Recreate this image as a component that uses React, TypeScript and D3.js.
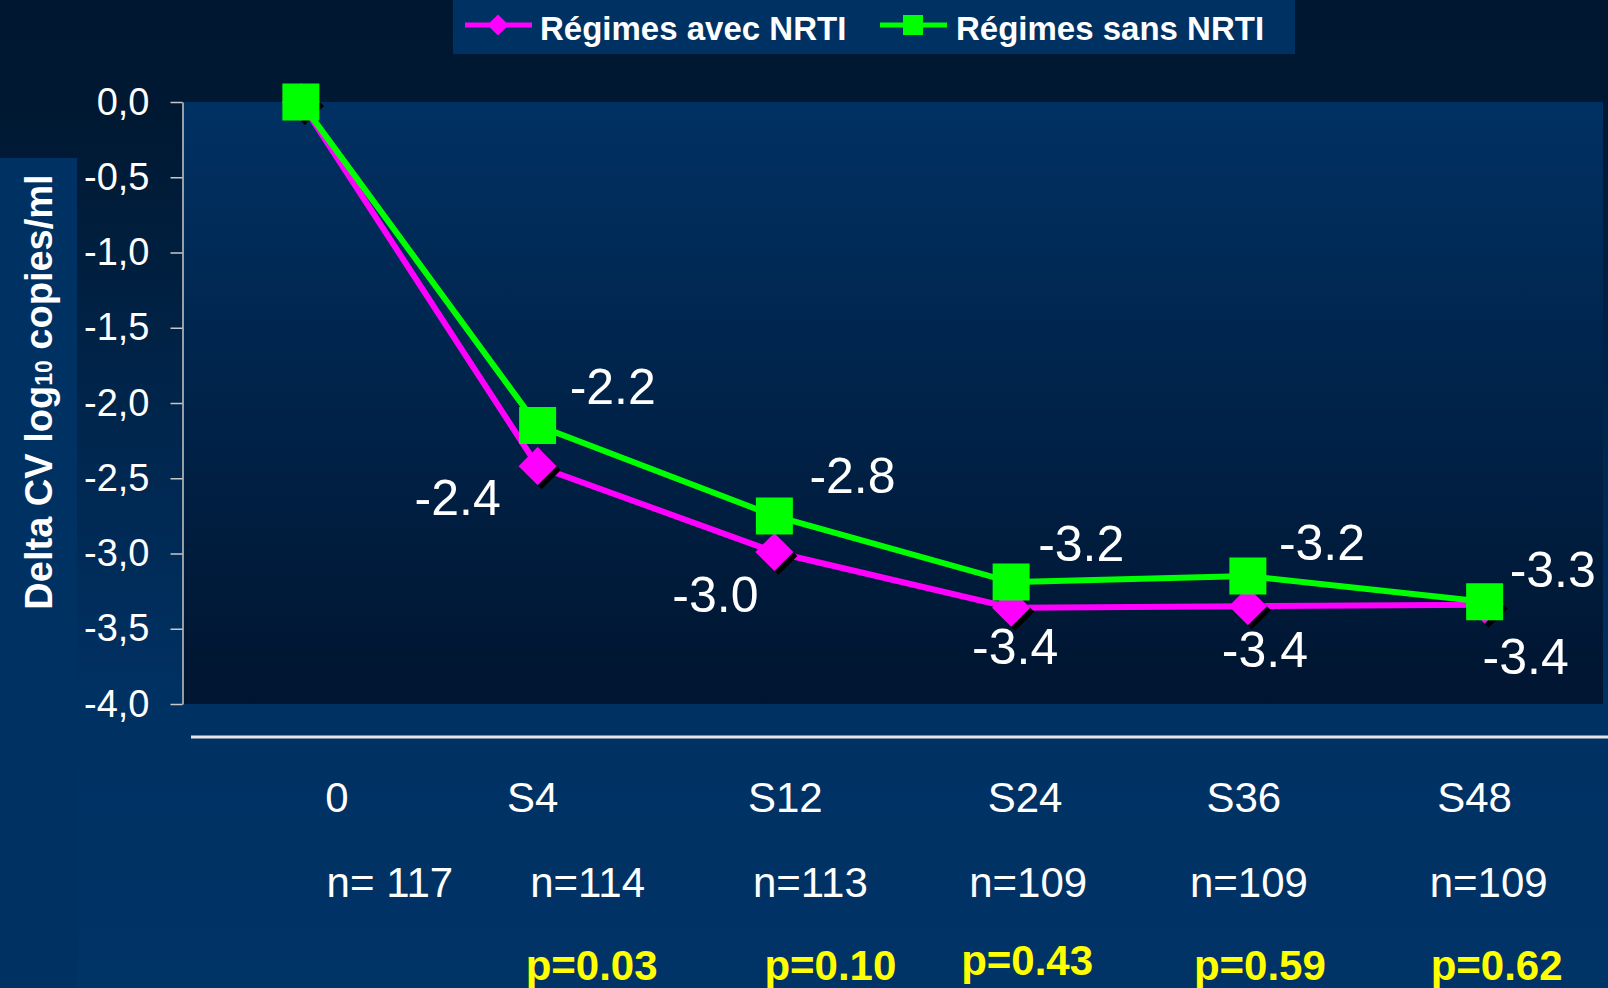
import React, { useEffect, useRef } from "react";
import * as d3 from "d3";

// chart data
const categories = ["0", "S4", "S12", "S24", "S36", "S48"];
const avecNRTI = [0, -2.42, -2.99, -3.36, -3.35, -3.34];
const sansNRTI = [0, -2.15, -2.75, -3.19, -3.15, -3.32];
const avecLabels = ["", "-2.4", "-3.0", "-3.4", "-3.4", "-3.4"];
const sansLabels = ["", "-2.2", "-2.8", "-3.2", "-3.2", "-3.3"];
const nLabels = ["n= 117", "n=114", "n=113", "n=109", "n=109", "n=109"];
const pLabels = ["", "p=0.03", "p=0.10", "p=0.43", "p=0.59", "p=0.62"];
const yTicks = [0, -0.5, -1, -1.5, -2, -2.5, -3, -3.5, -4];

// layout
const W = 1608;
const H = 988;
const plot = { left: 182.5, right: 1603, top: 102, bottom: 704 };
const FONT = "'Liberation Sans', Arial, sans-serif";

// label nudges, relative to each point / category centre
const sansLabelOffset = [[0, 0], [32, -22], [35, -23], [27, -21], [31, -16], [25, -15]];
const avecLabelOffset = [[0, 0], [-80, 49], [-59, 60], [4, 56], [17, 61], [41, 69]];
const catDx = [36, -5, 11, 14, -4, -10];
const nDx = [89, 50, 36, 17, 1, 4];
const pDx = [0, 54, 56, 16, 12, 12];
const pDy = [0, 0, 0, -5, 0, 0];

const MAGENTA = "#ff00ff";
const GREEN = "#00ff00";

const App = () => {
  const axisRef = useRef<SVGGElement>(null);

  const x = d3.scaleBand().domain(categories).range([plot.left, plot.right]);
  const cx = (c: string) => (x(c) as number) + x.bandwidth() / 2;
  const y = d3.scaleLinear().domain([-4, 0]).range([plot.bottom, plot.top]);

  const line = d3
    .line<number>()
    .x((_, i) => cx(categories[i]))
    .y((d) => y(d));

  const diamond = d3.symbol(d3.symbolSquare, 27 * 27)() as string;
  const square = d3.symbol(d3.symbolSquare, 37 * 37)() as string;
  const legendDiamond = d3.symbol(d3.symbolSquare, 15 * 15)() as string;
  const legendSquare = d3.symbol(d3.symbolSquare, 20 * 20)() as string;

  useEffect(() => {
    document.body.style.margin = "0";
    const fmt = d3.format(".1f");
    const g = d3.select(axisRef.current);
    g.selectAll("*").remove();
    g.call(
      d3
        .axisLeft(y)
        .tickValues(yTicks)
        .tickSize(12)
        .tickSizeOuter(0)
        .tickPadding(21)
        .tickFormat((d) => fmt(d as number).replace(".", ",").replace("\u2212", "-"))
    );
    g.select(".domain").attr("stroke", "#c8c8c8").attr("stroke-width", 1.5);
    g.selectAll(".tick line").attr("stroke", "#c8c8c8").attr("stroke-width", 1.5);
    g.selectAll(".tick text")
      .attr("fill", "#ffffff")
      .attr("font-size", 38)
      .attr("font-family", FONT);
  }, []);

  return (
    <svg
      width={W}
      height={H}
      style={{ position: "fixed", left: 0, top: 0, display: "block" }}
      fontFamily={FONT}
    >
      <defs>
        <linearGradient id="bg" x1="0" y1="0" x2="0" y2={H} gradientUnits="userSpaceOnUse">
          <stop offset="0" stopColor="#001731" />
          <stop offset="0.12" stopColor="#001933" />
          <stop offset="0.7" stopColor="#003163" />
          <stop offset="1" stopColor="#003366" />
        </linearGradient>
        <linearGradient id="plotBg" x1="0" y1="0" x2="0" y2="1">
          <stop offset="0" stopColor="#003163" />
          <stop offset="1" stopColor="#001530" />
        </linearGradient>
      </defs>

      <rect x={0} y={0} width={W} height={H} fill="url(#bg)" />
      <rect x={0} y={158} width={77} height={H - 158} fill="#003163" />
      <rect
        x={plot.left}
        y={plot.top}
        width={plot.right - plot.left}
        height={plot.bottom - plot.top}
        fill="url(#plotBg)"
      />

      {/* legend */}
      <rect x={453} y={0} width={842} height={54} fill="#003163" />
      <line x1={465} x2={532} y1={25} y2={25} stroke={MAGENTA} strokeWidth={5} />
      <path d={legendDiamond} transform="translate(498,25) rotate(45)" fill={MAGENTA} />
      <text x={540} y={40} fill="#fff" fontSize={33} fontWeight="bold">
        Régimes avec NRTI
      </text>
      <line x1={880} x2={947} y1={25} y2={25} stroke={GREEN} strokeWidth={5} />
      <path d={legendSquare} transform="translate(913,25)" fill={GREEN} />
      <text x={956} y={40} fill="#fff" fontSize={33} fontWeight="bold">
        Régimes sans NRTI
      </text>

      {/* y axis */}
      <g ref={axisRef} transform={`translate(${plot.left},0)`} />
      <text
        transform="translate(52,392) rotate(-90)"
        textAnchor="middle"
        fill="#fff"
        fontSize={38}
        fontWeight="bold"
      >
        Delta CV log<tspan fontSize={23}>10</tspan> copies/ml
      </text>

      {/* series: avec NRTI */}
      <path d={line(avecNRTI) as string} fill="none" stroke={MAGENTA} strokeWidth={6} />
      {avecNRTI.map((v, i) => (
        <g key={"a" + i}>
          <path d={diamond} transform={`translate(${cx(categories[i]) + 4},${y(v) + 4}) rotate(45)`} fill="#000" />
          <path d={diamond} transform={`translate(${cx(categories[i])},${y(v)}) rotate(45)`} fill={MAGENTA} />
        </g>
      ))}

      {/* series: sans NRTI */}
      <path d={line(sansNRTI) as string} fill="none" stroke={GREEN} strokeWidth={6} />
      {sansNRTI.map((v, i) => (
        <path key={"s" + i} d={square} transform={`translate(${cx(categories[i])},${y(v)})`} fill={GREEN} />
      ))}

      {/* data labels */}
      {sansLabels.map((t, i) => (
        <text
          key={"sl" + i}
          x={cx(categories[i]) + sansLabelOffset[i][0]}
          y={y(sansNRTI[i]) + sansLabelOffset[i][1]}
          fill="#fff"
          fontSize={50}
        >
          {t}
        </text>
      ))}
      {avecLabels.map((t, i) => (
        <text
          key={"al" + i}
          x={cx(categories[i]) + avecLabelOffset[i][0]}
          y={y(avecNRTI[i]) + avecLabelOffset[i][1]}
          fill="#fff"
          fontSize={50}
          textAnchor="middle"
        >
          {t}
        </text>
      ))}

      {/* bottom rule and tables */}
      <line x1={191} x2={W} y1={737} y2={737} stroke="#e6e6e6" strokeWidth={3} />
      {categories.map((c, i) => (
        <text key={"c" + i} x={cx(c) + catDx[i]} y={812} fill="#fff" fontSize={42} textAnchor="middle">
          {c}
        </text>
      ))}
      {nLabels.map((t, i) => (
        <text key={"n" + i} x={cx(categories[i]) + nDx[i]} y={897} fill="#fff" fontSize={42} textAnchor="middle">
          {t}
        </text>
      ))}
      {pLabels.map((t, i) => (
        <text
          key={"p" + i}
          x={cx(categories[i]) + pDx[i]}
          y={980 + pDy[i]}
          fill="#ffff00"
          fontSize={42}
          fontWeight="bold"
          textAnchor="middle"
        >
          {t}
        </text>
      ))}
    </svg>
  );
};

export default App;
